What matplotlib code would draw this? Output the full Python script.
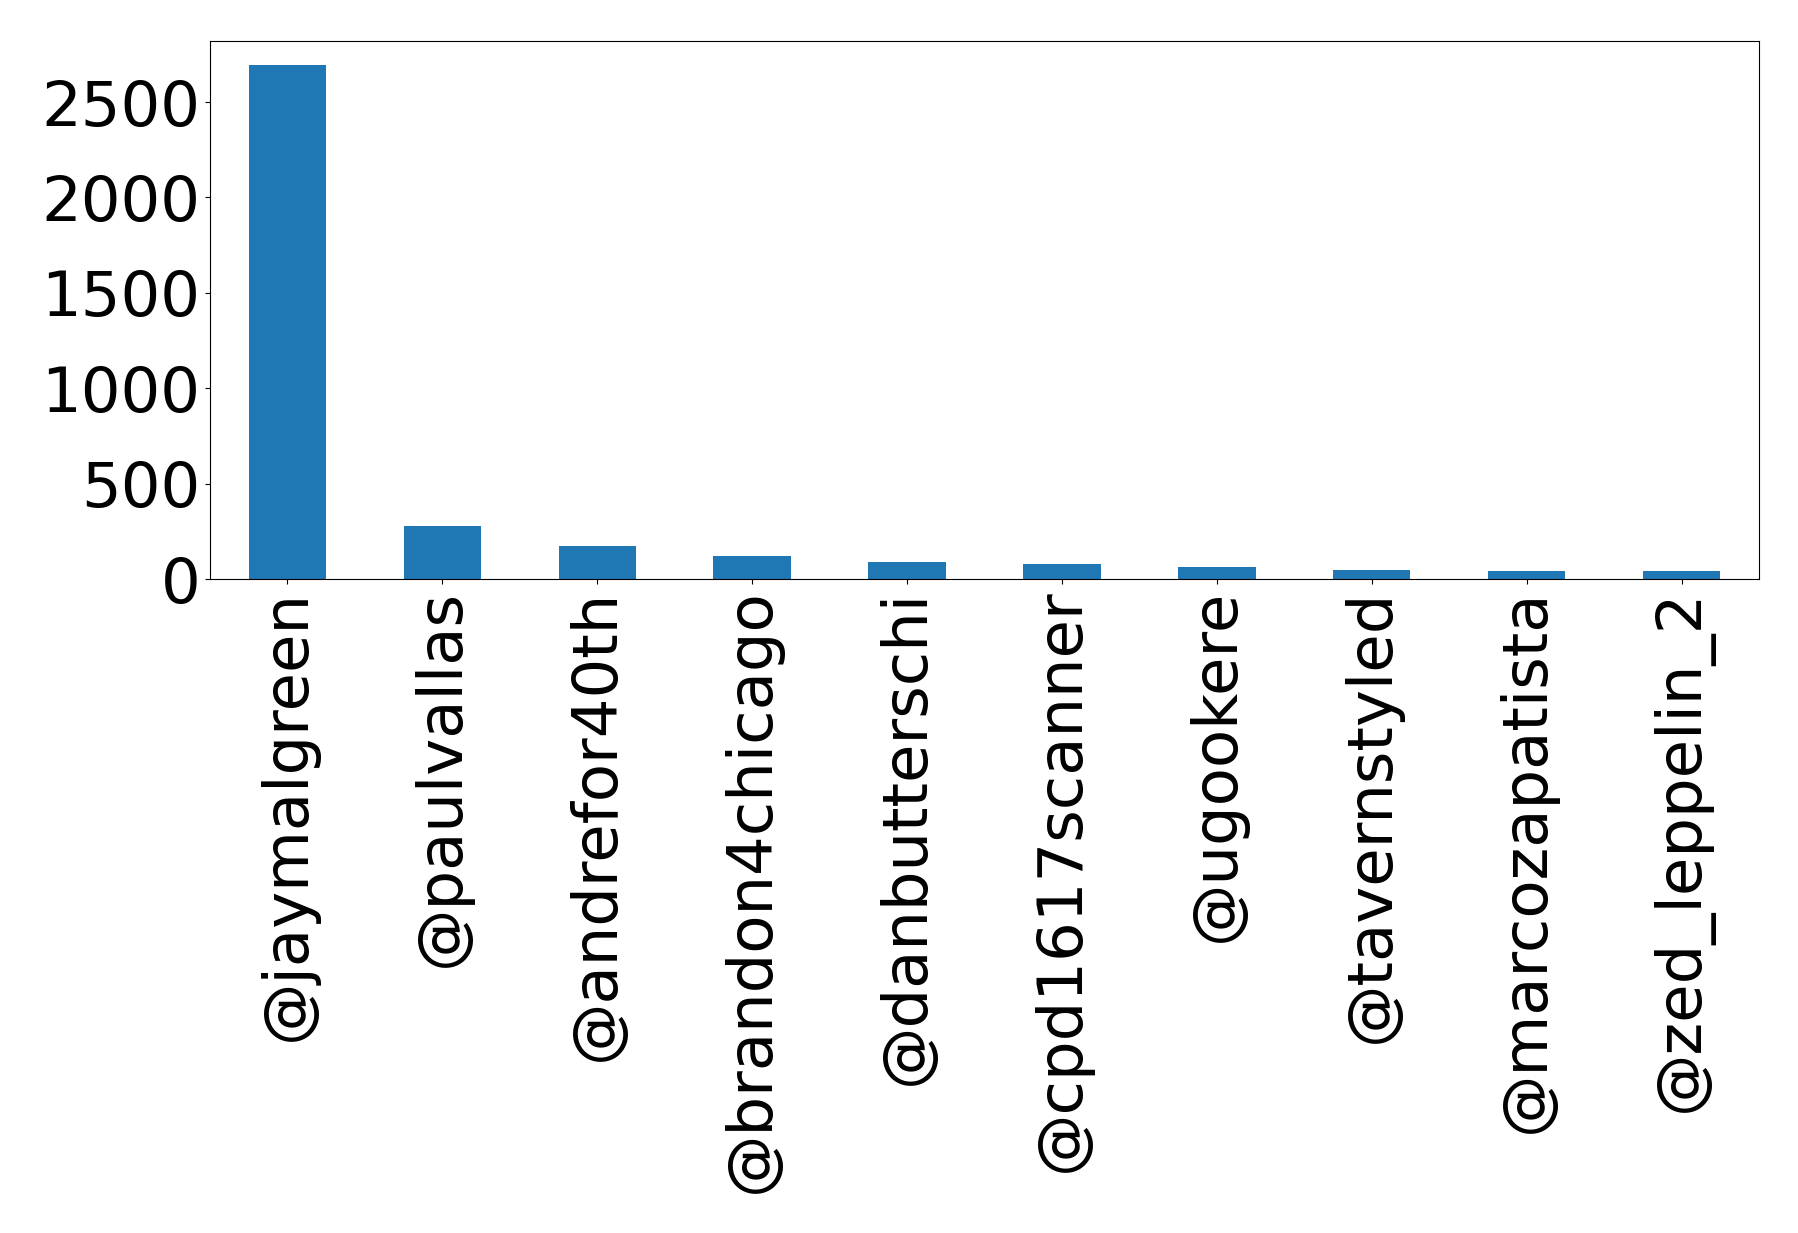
import matplotlib
matplotlib.use("Agg")
import matplotlib.pyplot as plt

users = ["@jaymalgreen", "@paulvallas", "@andrefor40th", "@brandon4chicago",
         "@danbutterschi", "@cpd1617scanner", "@ugookere", "@tavernstyled",
         "@marcozapatista", "@zed_leppelin_2"]
counts = [2695, 277, 172, 120, 89, 78, 63, 47, 42, 42]

W, H = 1798, 1233
fig = plt.figure(figsize=(W / 100, H / 100), dpi=100)
ax = fig.add_axes([210 / W, 1 - 579 / H, (1759 - 210) / W, (579 - 41) / H])
x = range(len(users))
ax.bar(x, counts, width=0.5, color="#1f77b4")
ax.set_xlim(-0.5, len(users) - 0.5)
ax.set_ylim(0, 2820)
ax.set_xticks(list(x))
ax.set_xticklabels(users, rotation=90, fontsize=45)
ax.set_yticks([0, 500, 1000, 1500, 2000, 2500])
ax.tick_params(axis="y", labelsize=45)
fig.savefig("out.png", dpi=100)
